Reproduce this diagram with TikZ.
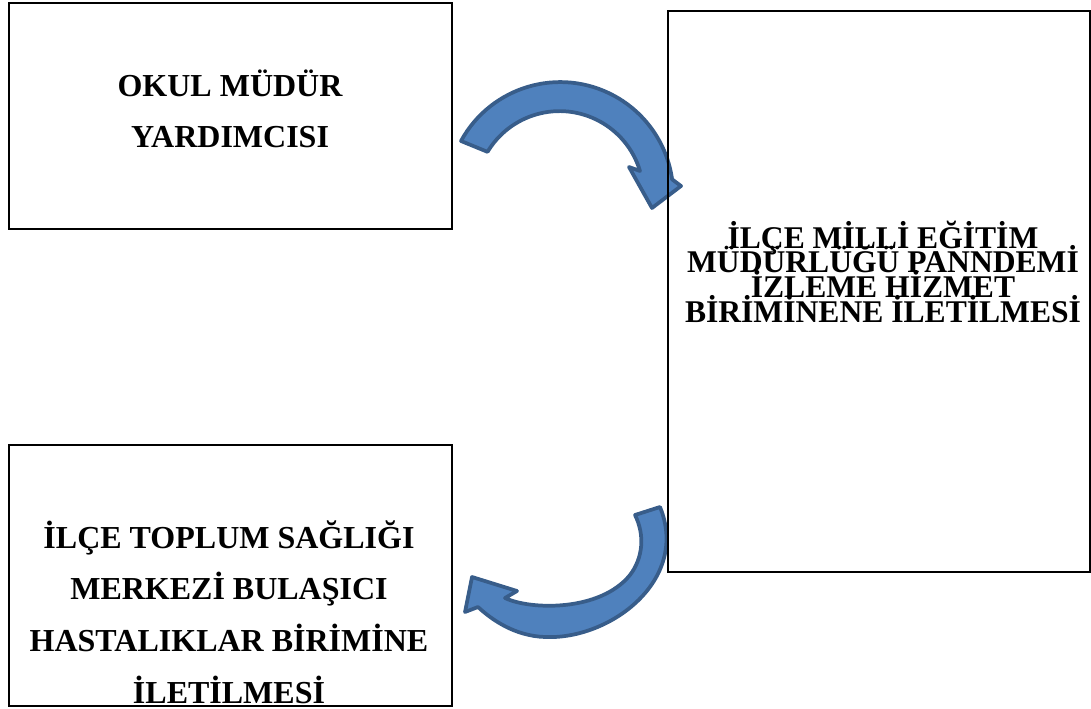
\documentclass[tikz,border=0pt]{standalone}
\usepackage{fontspec}
\setmainfont{Liberation Serif}
\definecolor{arrowfill}{HTML}{4F81BD}
\definecolor{arrowline}{HTML}{385D8A}
\lineskiplimit=-100pt
\begin{document}
\begin{tikzpicture}[x=0.75pt,y=-0.75pt,
  box/.style={draw=black,line width=1.5pt,inner sep=0pt,outer sep=0pt},
  bigtext/.style={align=center,inner sep=0pt,font=\fontsize{24}{38.7}\selectfont\bfseries},
  tighttext/.style={align=center,inner sep=0pt,font=\fontsize{23.7}{18.5}\selectfont\bfseries},
  curvedarrow/.style={fill=arrowfill,draw=arrowline,line width=2.8pt,line join=round}]
\useasboundingbox (0,0) rectangle (1091,709);
% curved block arrows
\filldraw[curvedarrow] (461,141) arc[start angle=-151.4,end angle=-8,radius=113]
  -- (681,186) -- (652,208) -- (629,167) -- (640,171)
  arc[start angle=-16.7,end angle=-149,radius=84] -- cycle;
\filldraw[curvedarrow] (660,507) .. controls (690,580) and (610,640) .. (545,637)
  .. controls (515,636) and (492,620) .. (478,607)
  -- (465,612) -- (472,577) -- (517,591) -- (505,598)
  .. controls (530,610) and (600,612) .. (630,575)
  .. controls (643,558) and (645,535) .. (635,515) -- cycle;
% boxes
\node[box,minimum width=332.25pt,minimum height=169.5pt] (okul) at (230.5,116) {};
\node[box,minimum width=316.5pt,minimum height=420.75pt] (ilce) at (879,291.5) {};
\node[box,minimum width=332.25pt,minimum height=195.75pt] (toplum) at (230.5,575.5) {};
% texts
\node[bigtext,anchor=base] (okultext) at (230,148) {OKUL MÜDÜR\\YARDIMCISI};
\node[tighttext,anchor=base] (ilcetext) at (883,322) {İLÇE MİLLİ EĞİTİM\\MÜDÜRLÜĞÜ PANNDEMİ\\İZLEME HİZMET\\BİRİMİNENE İLETİLMESİ};
\node[bigtext,anchor=base] (toplumtext) at (229,703) {İLÇE TOPLUM SAĞLIĞI\\MERKEZİ BULAŞICI\\HASTALIKLAR BİRİMİNE\\İLETİLMESİ};
\end{tikzpicture}
\end{document}
